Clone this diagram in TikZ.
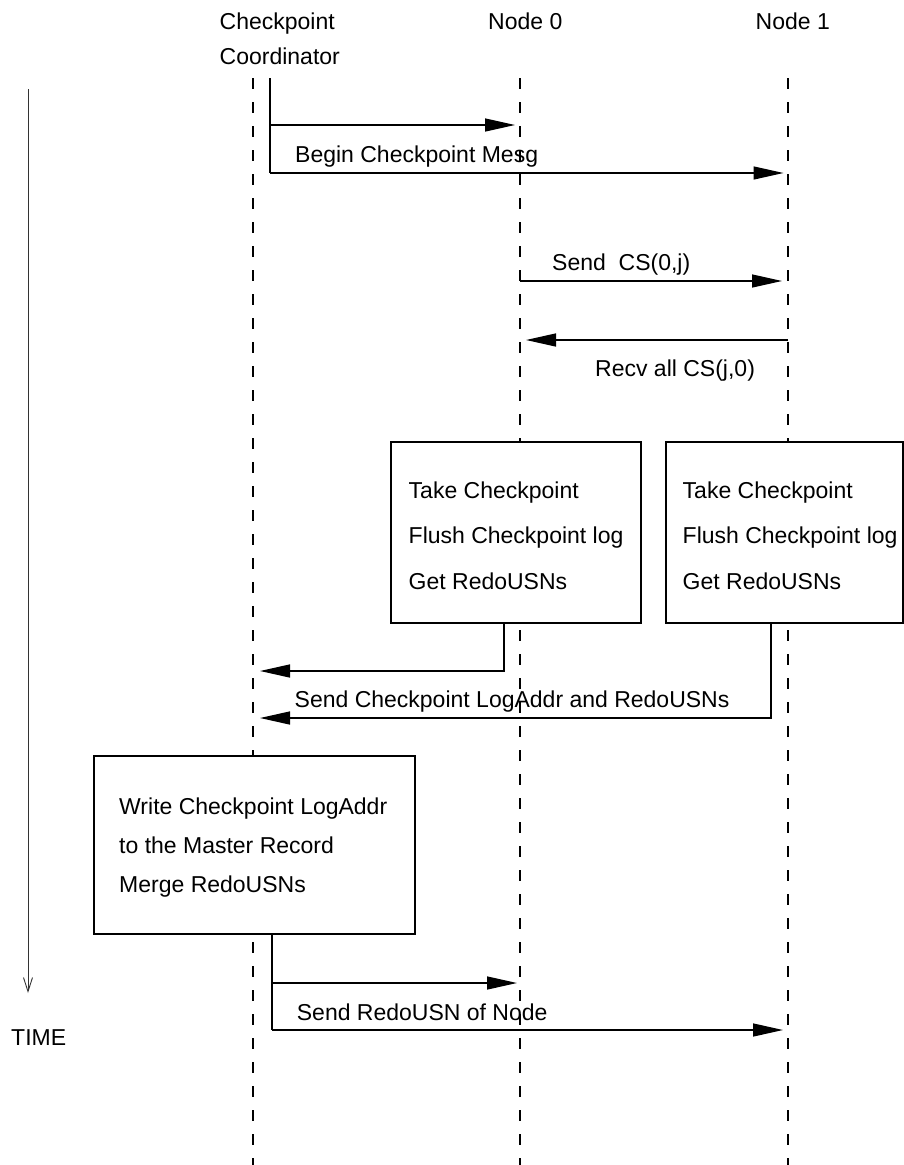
\documentclass[tikz,border=0pt]{standalone}
\usepackage{fontspec}
\setmainfont{Liberation Sans}
\usetikzlibrary{arrows.meta}
\begin{document}
\begin{tikzpicture}[x=1pt,y=-1pt,
  lbl/.style={font=\fontsize{23}{28}\selectfont, inner sep=0pt, anchor=base west},
  lifeline/.style={line width=1.4pt, dash pattern=on 11pt off 13pt},
  wire/.style={line width=1.4pt},
  msg/.style={line width=1.4pt, -{Triangle[length=30pt,width=13pt]}},
  stepbox/.style={draw, line width=1.2pt, fill=white, inner sep=0pt},
  timeline/.style={line width=0.9pt, draw=black!80, -{Straight Barb[length=14pt,width=9pt,line width=0.9pt]}}]
\useasboundingbox (0,0) rectangle (904,1165);

% participants
\node[lbl] (hcp)  at (219.5,29.5) {Checkpoint};
\node[lbl] (hco)  at (219.5,64.5) {Coordinator};
\node[lbl] (hn0)  at (488,29.5)   {Node 0};
\node[lbl] (hn1)  at (755.5,29.5) {Node 1};

% lifelines
\coordinate (cT)  at (253,78);  \coordinate (cB)  at (253,1165);
\coordinate (n0T) at (520,78);  \coordinate (n0B) at (520,1165);
\coordinate (n1T) at (788,78);  \coordinate (n1B) at (788,1165);
\draw[lifeline] (cT) -- (cB);
\draw[lifeline] (n0T) -- (n0B);
\draw[lifeline] (n1T) -- (n1B);

% time axis
\coordinate (tT) at (28,89);
\coordinate (tB) at (28,993);
\draw[timeline] (tT) -- (tB);
\node[lbl] (time) at (11,1045) {TIME};

% begin checkpoint
\coordinate (bs) at (270,78);
\coordinate (b1) at (270,125);
\coordinate (b2) at (270,173);
\draw[wire] (bs) -- (b2);
\draw[msg, shorten >=5pt] (b1) -- (b1 -| n0T);
\draw[msg, shorten >=4.5pt] (b2) -- (b2 -| n1T);
\node[lbl] (lbegin) at (295,162.5) {Begin Checkpoint Mesg};

% exchange of CS
\coordinate (s0) at (520,281);
\draw[msg, shorten >=6pt] (s0) -- (s0 -| n1T);
\node[lbl] (lsend) at (552,270) {Send\ \ CS(0,j)};
\coordinate (r1) at (788,340);
\draw[msg, shorten >=6pt] (r1) -- (r1 -| n0T);
\node[lbl] (lrecv) at (595,376.7) {Recv all CS(j,0)};

% local checkpoints
\node[stepbox, minimum width=250pt, minimum height=181pt] (box0) at (516,532.5) {};
\node[stepbox, minimum width=237pt, minimum height=181pt] (box1) at (784.5,532.5) {};
\node[lbl] (t0a) at (408.5,498.5) {Take Checkpoint};
\node[lbl] (t0b) at (408.5,543.5) {Flush Checkpoint log};
\node[lbl] (t0c) at (408.5,589.3) {Get RedoUSNs};
\node[lbl] (t1a) at (682.5,498.5) {Take Checkpoint};
\node[lbl] (t1b) at (682.5,543.5) {Flush Checkpoint log};
\node[lbl] (t1c) at (682.5,589.3) {Get RedoUSNs};

% replies to the coordinator
\coordinate (q0) at (504,623);
\coordinate (q0e) at (253,671);
\coordinate (q1) at (771,623);
\coordinate (q1e) at (253,718);
\draw[msg, shorten >=7pt] (q0) |- (q0e);
\draw[msg, shorten >=7pt] (q1) |- (q1e);
\node[lbl] (lreply) at (294.5,707.3) {Send Checkpoint LogAddr and RedoUSNs};

% master record update
\node[stepbox, minimum width=321pt, minimum height=178pt] (box2) at (254.5,845) {};
\node[lbl] (t2a) at (119,814)   {Write Checkpoint LogAddr};
\node[lbl] (t2b) at (119,853.3) {to the Master Record};
\node[lbl] (t2c) at (119,892.7) {Merge RedoUSNs};

% distribute RedoUSN
\coordinate (ds) at (272,934);
\coordinate (d1) at (272,983);
\coordinate (d2) at (272,1030);
\draw[wire] (ds) -- (d2);
\draw[msg, shorten >=3pt] (d1) -- (d1 -| n0T);
\draw[msg, shorten >=5pt] (d2) -- (d2 -| n1T);
\node[lbl] (lredo) at (296.7,1020) {Send RedoUSN of Node};
\end{tikzpicture}
\end{document}
